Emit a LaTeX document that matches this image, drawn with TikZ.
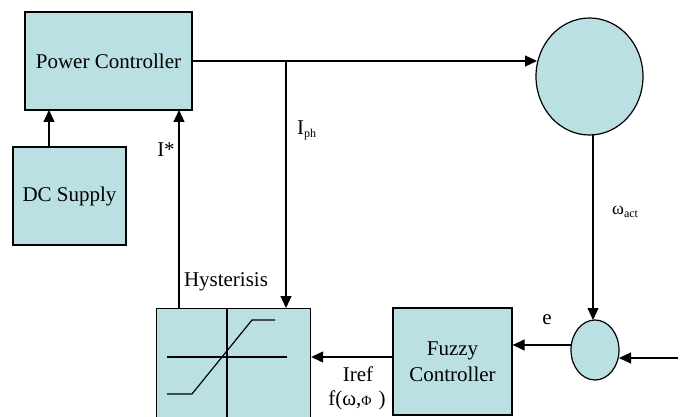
\documentclass[tikz,border=0pt]{standalone}
\usepackage{fontspec}
\setmainfont{Liberation Serif}
\usetikzlibrary{arrows.meta,shapes.geometric}
\definecolor{boxfill}{RGB}{187,224,227}
\begin{document}
\begin{tikzpicture}[x=1pt,y=-1pt,
  blk/.style={draw,line width=1.2pt,fill=boxfill,inner sep=0pt},
  conn/.style={line width=1.2pt},
  arr/.style={line width=1.2pt,-{Triangle[length=12pt,width=11pt]}},
  lbl/.style={inner sep=0pt,font=\fontsize{21}{25}\selectfont},
  every node/.style={font=\fontsize{21}{25}\selectfont}]
\useasboundingbox (0,0) rectangle (686,417);
\clip (0,0) rectangle (686,417);
% blocks
\node[blk,minimum width=167pt,minimum height=98pt] (pc) at (108.5,61) {Power Controller};
\node[blk,minimum width=113pt,minimum height=98pt] (dc) at (69.5,196) {DC Supply};
\node[blk,minimum width=154pt,minimum height=120pt,anchor=north west] (hy) at (156,308) {};
\node[blk,align=center,minimum width=119pt,minimum height=107pt] (fz) at (452.5,361.5) {Fuzzy\\[1pt]Controller};
\node[blk,ellipse,minimum width=107pt,minimum height=117pt] (mot) at (589.5,76.5) {};
\node[blk,ellipse,minimum width=48pt,minimum height=60pt] (sum) at (595,350) {};
% hysteresis symbol
\draw[conn] (227,308) -- (227,420);
\draw[conn] (167,357) -- (287,357);
\draw[conn] (167,394) -- (192,394) -- (252,320) -- (275,320);
% coordinates
\coordinate (jI) at (286,61);
\coordinate (motin) at (537,61);
\coordinate (inp) at (678,358);
% connectors
\draw[arr] (49,147) -- (49,110);
\draw[arr] (179,308) -- (179,110);
\draw[conn] (pc.east |- jI) -- (jI);
\draw[arr] (jI) -- (motin);
\draw[arr] (jI) -- (286,308);
\draw[arr] (593,135) -- (593,320);
\draw[arr] (571,345) -- (fz.east |- 0,345);
\draw[arr] (fz.west |- 0,357) -- (hy.east |- 0,357);
\draw[arr] (inp) -- (619,358);
% labels
\node[lbl] at (166,150) {I*};
\node[lbl,anchor=west] at (297,130) {I\raisebox{-3pt}{\fontsize{12}{12}\selectfont ph}};
\node[lbl] at (226,282) {Hysterisis};
\node[lbl] at (358,374) {Iref};
\node[lbl] at (357,400) {f(ω,{\fontsize{14}{14}\selectfont Φ}\,\,)};
\node[lbl,anchor=west] at (612,212) {{\fontsize{18}{18}\selectfont ω}\raisebox{-3pt}{\fontsize{12}{12}\selectfont act}};
\node[lbl] at (547,320) {e};
\end{tikzpicture}
\end{document}
